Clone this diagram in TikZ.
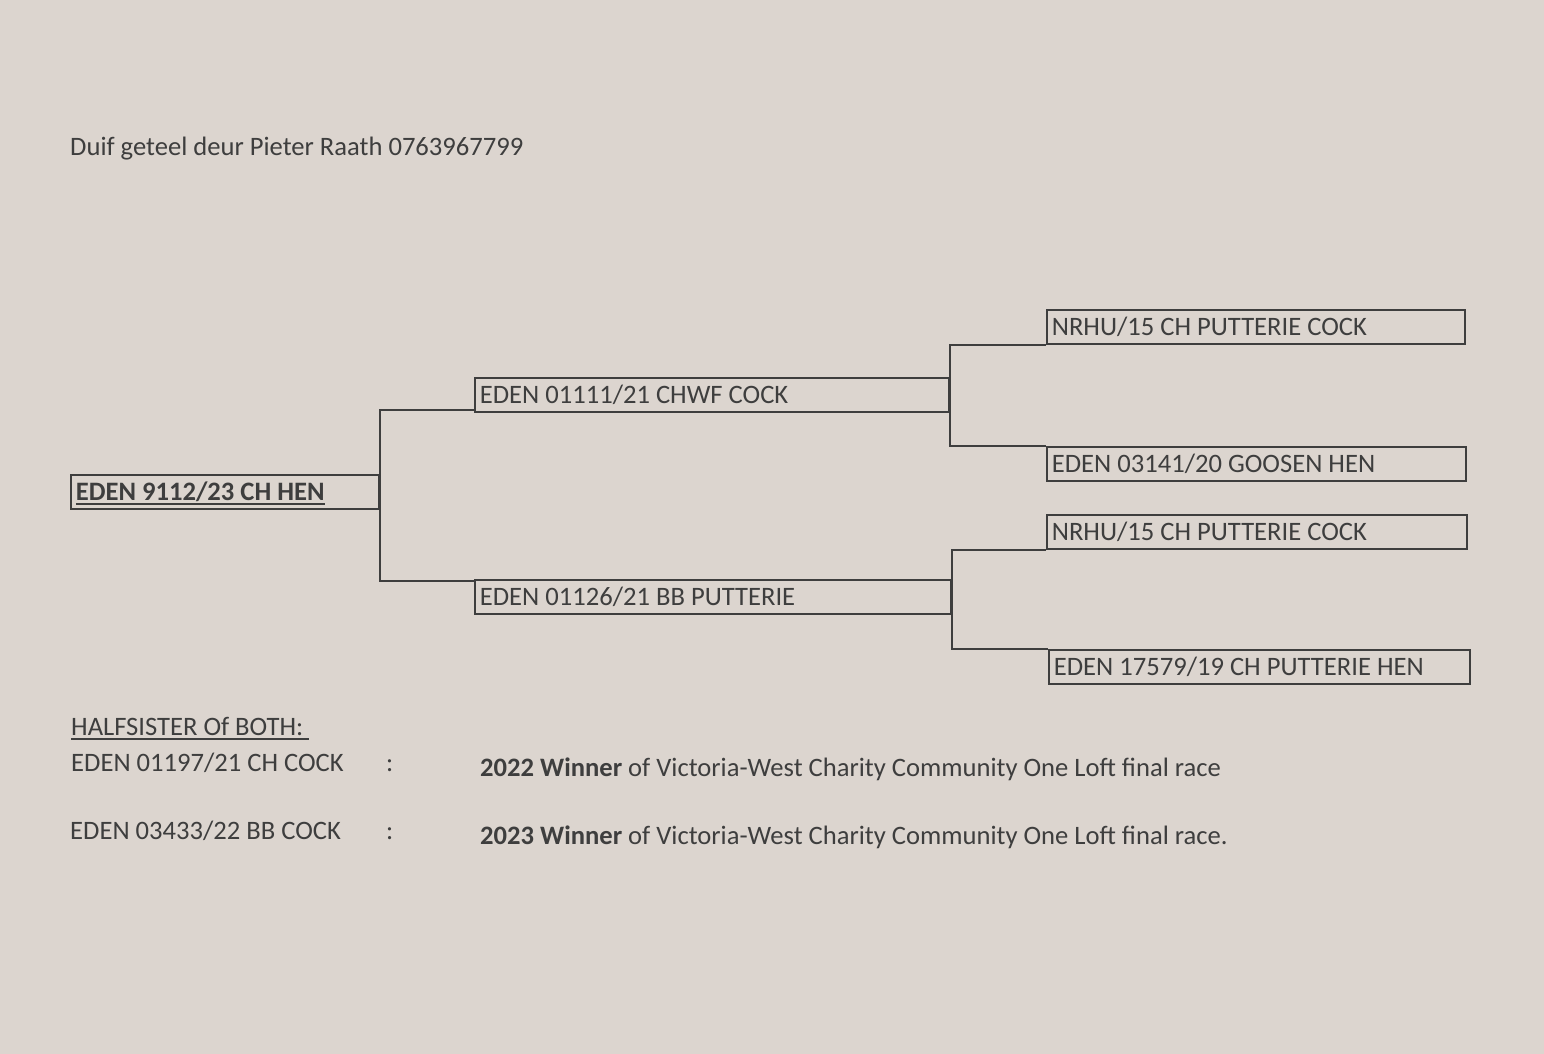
\documentclass[tikz,border=0pt]{standalone}
\usepackage{fontspec}
\setmainfont{Carlito}
\usetikzlibrary{positioning}
\definecolor{paper}{RGB}{220,213,207}
\definecolor{ink}{RGB}{62,62,62}
\newcommand\ulbox[1]{\setbox0\hbox{#1}\rlap{\rule[-4.5pt]{\wd0}{1.6pt}}\box0}

\tikzset{
  bird/.style={draw=ink, line width=1.7pt, anchor=north west, minimum height=34pt,
    inner xsep=5pt, text height=17pt, text depth=0pt, align=flush left, text=ink},
  line/.style={draw=ink, line width=1.7pt},
  note/.style={anchor=base west, inner sep=0pt, text=ink}
}

\begin{document}
\begin{tikzpicture}[x=1pt,y=-1pt,font=\fontsize{26.6}{31}\selectfont]
  \fill[paper] (0,0) rectangle (1544,1054);
  \useasboundingbox (0,0) rectangle (1544,1054);

  \node (maker) at (70,155) [note]{Duif geteel deur Pieter Raath 0763967799};

  \node (root) at (70,474) [bird,text width=298pt]{\bfseries\ulbox{EDEN 9112/23 CH HEN}};

  \node (sire) at (474,377) [bird,text width=464pt]{EDEN 01111/21 CHWF COCK};
  \node (dam) at (474,579) [bird,text width=466pt]{EDEN 01126/21 BB PUTTERIE};

  \node (ss) at (1046,309) [bird,text width=408pt]{NRHU/15 CH PUTTERIE COCK};
  \node (sd) at (1046,446) [bird,text width=409pt]{EDEN 03141/20 GOOSEN HEN};
  \node (ds) at (1046,514) [bird,text width=410pt]{NRHU/15 CH PUTTERIE COCK};
  \node (dd) at (1048,649) [bird,text width=411pt]{EDEN 17579/19 CH PUTTERIE HEN};


  \draw[line] ([yshift=3pt]sire.south west) -| (root.north east) |- ([yshift=-2pt]dam.north west);

  \draw[line] (ss.south west) -| (sire.east) |- (sd.north west);
  \draw[line] (ds.south west) -| (dam.east) |- (dd.north west);

  \node (half) at (71,735) [note]{\ulbox{HALFSISTER Of BOTH:\ }};
  \node (bro1) at (71,771) [note]{EDEN 01197/21 CH COCK};
  \node (col1) at (386,771) [note]{:};
  \node (win1) at (480,776) [note]{\textbf{2022 Winner} of Victoria-West Charity Community One Loft final race};
  \node (bro2) at (70,839) [note]{EDEN 03433/22 BB COCK};
  \node (col2) at (386,839) [note]{:};
  \node (win2) at (480,844) [note]{\textbf{2023 Winner} of Victoria-West Charity Community One Loft final race.};

\end{tikzpicture}
\end{document}
